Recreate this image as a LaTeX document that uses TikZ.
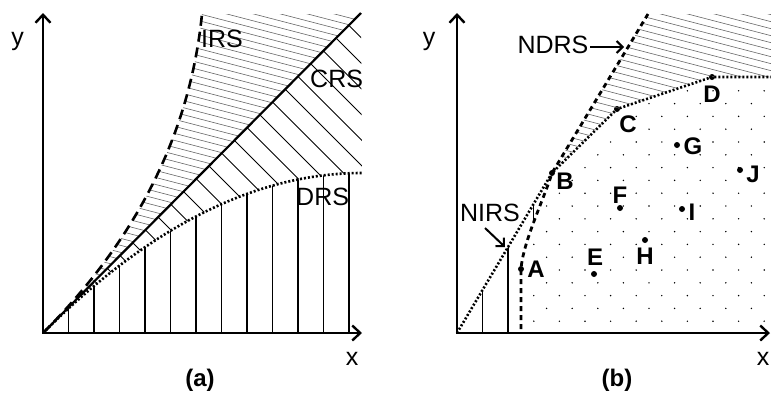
\documentclass[tikz,border=0pt]{standalone}
\usepackage{fontspec}
\setmainfont{Liberation Sans}
\usetikzlibrary{arrows.meta}
\begin{document}
\begin{tikzpicture}[x=1pt,y=-1pt,
  axes/.style={line width=2.4pt,{Straight Barb[length=8pt,width=15pt]}-{Straight Barb[length=8pt,width=15pt]}},
  crsline/.style={line width=2.2pt},
  dashcurve/.style={line width=2.6pt,dash pattern=on 10pt off 6pt},
  dotcurve/.style={line width=2.6pt,dash pattern=on 2pt off 2pt},
  ndrsline/.style={line width=2.8pt,dash pattern=on 5pt off 4pt},
  ghatch/.style={line width=0.6pt,black!60},
  bhatch/.style={line width=1pt},
  vhatch/.style={line width=1.1pt},
  lbl/.style={font=\fontsize{25}{25}\selectfont,inner sep=0pt,anchor=base},
  blbl/.style={font=\fontsize{24}{24}\selectfont\bfseries,inner sep=0pt,anchor=base},
  ptdot/.style={circle,fill,inner sep=0pt,minimum size=6pt},
  labarrow/.style={line width=2pt,-{Straight Barb[length=6pt,width=12pt]}}]
\useasboundingbox (0,0) rectangle (771,392);

% ---------------- panel (a)
\coordinate (Oa) at (43,333);
\coordinate (Ya) at (43,13);
\coordinate (Xa) at (362,333);
\coordinate (Ctop) at (361,13);
\coordinate (Itop) at (202,14);
\coordinate (Dend) at (362,173);

\begin{scope}
\clip (Oa) .. controls (137,239) and (190,133) .. (Itop) -- (361,14) -- cycle;
\foreach \c in {-150,-143,...,350} \draw[ghatch] (0,\c) -- (780,\c+202.8);
\end{scope}

\begin{scope}
\clip (Oa) -- (Ctop) -- (Dend) .. controls (256,173) and (149.7,226.3) .. (Oa) -- cycle;
\foreach \c in {-400,-374.5,...,400} \draw[bhatch] (0,\c) -- (450,\c+450);
\end{scope}

\begin{scope}
\clip (Oa) .. controls (149.7,226.3) and (256,173) .. (Dend) -- (362,333) -- cycle;
\foreach \k in {1,...,12} \draw[vhatch] (43+25.5*\k,333) -- (43+25.5*\k,100);
\end{scope}

\draw[crsline] (Oa) -- (Ctop);
\draw[dashcurve] (Oa) .. controls (137,239) and (190,133) .. (Itop);
\draw[dotcurve] (Oa) .. controls (149.7,226.3) and (256,173) .. (Dend);
\draw[axes] (Ya) -- (Oa) -- (Xa);

\node[lbl] (ya) at (17.5,45) {y};
\node[lbl] (xa) at (352,365) {x};
\node[lbl,anchor=base west] (irs) at (201,47) {IRS};
\node[lbl,anchor=base west] (crs) at (310,87) {CRS};
\node[lbl,anchor=base west] (drs) at (296,205) {DRS};
\node[blbl] (capa) at (200,386) {(a)};

% ---------------- panel (b)
\coordinate (Ob) at (457,333);
\coordinate (Yb) at (457,13);
\coordinate (Xb) at (770,333);
\coordinate (Ntop) at (648,14);
\coordinate (Nbot) at (521,333);
\coordinate (Fend) at (771,77);

\node[ptdot] (pA) at (521,269) {};
\node[ptdot] (pB) at (552,173) {};
\node[ptdot] (pC) at (617,109) {};
\node[ptdot] (pD) at (712,77) {};
\node[ptdot] (pE) at (594,274) {};
\node[ptdot] (pF) at (620,208) {};
\node[ptdot] (pG) at (677,145) {};
\node[ptdot] (pH) at (645,240) {};
\node[ptdot] (pI) at (682,209) {};
\node[ptdot] (pJ) at (740,170) {};

% gray hatch above frontier
\begin{scope}
\clip (Ntop) -- (pB.center) -- (pC.center) -- (pD.center) -- (Fend) -- (771,14) -- cycle;
\foreach \c in {-150,-143,...,350} \draw[ghatch] (380,\c) -- (780,\c+104);
\end{scope}

% vertical hatch between NIRS and NDRS
\begin{scope}
\clip (Ob) -- (pB.center) .. controls (544,199) and (523,242) .. (pA.center) -- (Nbot) -- cycle;
\foreach \k in {1,2,3} \draw[vhatch] (457+25.5*\k,333) -- (457+25.5*\k,150);
\end{scope}

% dotted lattice
\begin{scope}
\clip (525,333) -- (525,269) .. controls (527,242) and (548,199) .. (556,176.5) -- (620,112.5) -- (714,80.5) -- (771,80.5) -- (771,333) -- cycle;
\foreach \m in {1,...,20} \foreach \j in {0,...,13}
  \fill ({457+12.8*(2*\j+1-mod(\m,2))},{334-12.8*\m}) circle[radius=0.8pt];
\end{scope}

\draw[ndrsline] (Ntop) -- (pB.center) .. controls (544,199) and (523,242) .. (pA.center) -- (Nbot);
\draw[dotcurve] (Ob) -- (pB.center) -- (pC.center) -- (pD.center) -- (Fend);
\draw[axes] (Yb) -- (Ob) -- (Xb);

\node[lbl] (yb) at (429,45) {y};
\node[lbl] (xb) at (763,365) {x};
\node[blbl] (capb) at (617,386) {(b)};

\node[lbl] (ndrs) at (553,53) {NDRS};
\coordinate (ndrsTip) at (624,47);
\coordinate (ndrsStart) at (590,47);
\draw[labarrow] (ndrsStart) -- (ndrsTip);

\node[lbl] (nirs) at (490,221) {NIRS};
\coordinate (nirsStart) at (485,228);
\coordinate (nirsTip) at (505,247);
\draw[labarrow] (nirsStart) -- (nirsTip);

\node[blbl] (lA) at (536,277) {A};
\node[blbl] (lB) at (565,189) {B};
\node[blbl] (lC) at (628,132) {C};
\node[blbl] (lD) at (712,102) {D};
\node[blbl] (lE) at (595,265) {E};
\node[blbl] (lF) at (620,203) {F};
\node[blbl] (lG) at (693,154) {G};
\node[blbl] (lH) at (645,264) {H};
\node[blbl] (lI) at (692,220) {I};
\node[blbl] (lJ) at (753,182) {J};
\end{tikzpicture}
\end{document}
